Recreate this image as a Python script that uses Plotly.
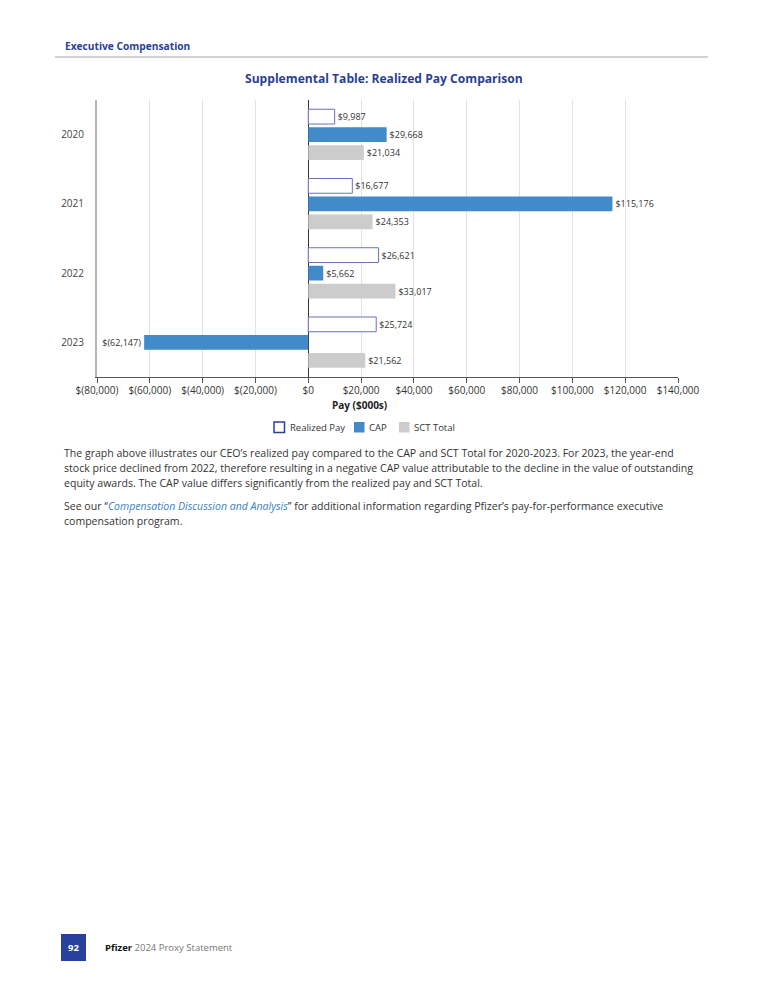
import plotly.graph_objects as go

# ---------------- data ----------------
years = ["2020", "2021", "2022", "2023"]
realized_pay = [9987, 16677, 26621, 25724]
cap = [29668, 115176, 5662, -62147]
sct_total = [21034, 24353, 33017, 21562]
tick_vals = [-80000, -60000, -40000, -20000, 0, 20000, 40000, 60000, 80000, 100000, 120000, 140000]
tick_text = ["$(80,000)", "$(60,000)", "$(40,000)", "$(20,000)", "$0", "$20,000", "$40,000",
             "$60,000", "$80,000", "$100,000", "$120,000", "$140,000"]
series_names = ["Realized Pay", "CAP", "SCT Total"]


def money(v):
    return f"${v:,}" if v >= 0 else f"$({-v:,})"


# ---------------- geometry ----------------
W, H = 768, 1000
L, R, T, B = 97, 678, 100, 377


def px(x):
    return (x - L) / (R - L)


def py(y):
    return (B - y) / (B - T)


FONT = "Open Sans"
DARKBLUE = "#2b3f94"
CAP_BLUE = "#428bca"
SCT_GREY = "#cccccc"
RP_EDGE = "#6a71b8"

fig = go.Figure()
fig.add_trace(go.Bar(
    name=series_names[0], y=years, x=realized_pay, orientation="h",
    marker=dict(color="white", line=dict(color=RP_EDGE, width=1)),
    text=[money(v) for v in realized_pay], textposition="outside",
    textfont=dict(size=9, color="#333333", family=FONT), cliponaxis=False,
    constraintext="none"))
fig.add_trace(go.Bar(
    name=series_names[1], y=years, x=cap, orientation="h",
    marker=dict(color=CAP_BLUE, line=dict(color=CAP_BLUE, width=0)),
    text=[money(v) for v in cap], textposition="outside",
    textfont=dict(size=9, color="#333333", family=FONT), cliponaxis=False,
    constraintext="none"))
fig.add_trace(go.Bar(
    name=series_names[2], y=years, x=sct_total, orientation="h",
    marker=dict(color=SCT_GREY, line=dict(color=SCT_GREY, width=0)),
    text=[money(v) for v in sct_total], textposition="outside",
    textfont=dict(size=9, color="#333333", family=FONT), cliponaxis=False,
    constraintext="none"))

fig.update_layout(
    width=W, height=H,
    margin=dict(l=L, r=W - R, t=T, b=H - B, pad=0),
    paper_bgcolor="white", plot_bgcolor="white",
    font=dict(family=FONT, color="#333333", size=10),
    barmode="group", bargap=0.22, bargroupgap=0.18,
    showlegend=False,
    xaxis=dict(range=[-80000, 140000], tickvals=tick_vals, ticktext=tick_text,
               showgrid=True, gridcolor="#e2e2e2", gridwidth=1,
               zeroline=True, zerolinecolor="#333333", zerolinewidth=1,
               showline=True, linecolor="#555555", linewidth=1,
               ticks="outside", ticklen=5, tickcolor="#555555", ticklabelstandoff=-1,
               tickfont=dict(size=10, color="#333333", family=FONT)),
    yaxis=dict(type="category", categoryarray=years, categoryorder="array",
               autorange="reversed", showgrid=False, zeroline=False,
               showline=True, linecolor="#b5b5b5", linewidth=2,
               ticks="", ticklabelstandoff=9,
               tickfont=dict(size=10, color="#444444", family=FONT)),
)

annotations = []


def add_text(x, y, text, size, color="#333333", anchor="left", bold=False):
    if bold:
        text = f"<b>{text}</b>"
    annotations.append(dict(xref="paper", yref="paper", x=px(x), y=py(y), text=text,
                            showarrow=False, xanchor=anchor, yanchor="middle",
                            font=dict(size=size, color=color, family=FONT)))


# header
add_text(63, 46, "Executive Compensation", 10.2, DARKBLUE, bold=True)
add_text(384, 78, "Supplemental Table: Realized Pay Comparison", 12.1, DARKBLUE, anchor="center", bold=True)
# axis title
add_text(359, 405, "Pay ($000s)", 10, "#222222", anchor="center", bold=True)

# legend (key boxes + labels)
legend_x = [(274, 288), (354, 367), (399, 412)]
legend_style = [dict(fillcolor="white", line=dict(color="#2e3f95", width=1.5)),
                dict(fillcolor=CAP_BLUE, line=dict(width=0)),
                dict(fillcolor=SCT_GREY, line=dict(width=0))]
shapes = []
for (bx, tx), name, st in zip(legend_x, series_names, legend_style):
    shapes.append(dict(type="rect", xref="paper", yref="paper", x0=px(bx), x1=px(bx + 10.5),
                       y0=py(422), y1=py(432.5), **st))
    add_text(tx, 427.5, name, 9.5, "#333333")

# body text
body = [
    (453, "The graph above illustrates our CEO’s realized pay compared to the CAP and SCT Total for 2020-2023. For 2023, the year-end"),
    (468, "stock price declined from 2022, therefore resulting in a negative CAP value attributable to the decline in the value of outstanding"),
    (483, "equity awards. The CAP value differs significantly from the realized pay and SCT Total."),
    (506, "See our “<i><span style='color:#3a7fc2'>Compensation Discussion and Analysis</span></i>” for additional information regarding Pfizer’s pay-for-performance executive"),
    (521, "compensation program."),
]
for y, t in body:
    add_text(62, y, t, 10.55, "#333333")
# footer
add_text(73.5, 947, "92", 9.5, "white", anchor="center", bold=True)
add_text(103, 947, "<b>Pfizer</b> <span style='color:#777777'>2024 Proxy Statement</span>", 9.5, "#111111")

shapes += [
    dict(type="line", xref="paper", yref="paper", x0=px(55), x1=px(708), y0=py(57), y1=py(57),
         line=dict(color="#d3d3d3", width=2)),
    dict(type="rect", xref="paper", yref="paper", x0=px(61), x1=px(86), y0=py(934), y1=py(961),
         fillcolor="#28419a", line=dict(width=0)),
]

fig.update_layout(annotations=annotations, shapes=shapes)

fig.write_html("out.html", config={"displayModeBar": False},
               post_script="document.body.style.margin='0';")
